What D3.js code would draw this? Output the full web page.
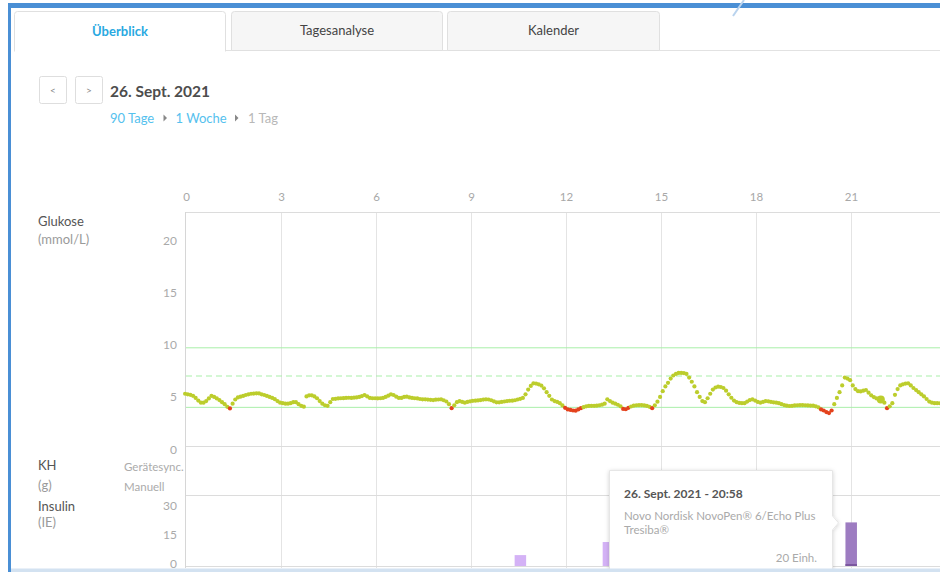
<!DOCTYPE html>
<html><head><meta charset="utf-8">
<script src="https://cdn.jsdelivr.net/npm/d3@7"></script>
<style>body{margin:0;background:#fff;font-family:Lato,'Open Sans',sans-serif;overflow:hidden} svg{display:block}</style>
</head><body><svg id="c" width="940" height="572"></svg>
<script>
// ---------- data ----------
const tabs = ['Überblick', 'Tagesanalyse', 'Kalender'];
const dateLabel = '26. Sept. 2021';
const crumbs = ['90 Tage', '1 Woche', '1 Tag'];
const hourTicks = [0, 3, 6, 9, 12, 15, 18, 21];
const glucoseTicks = [0, 5, 10, 15, 20];
const insulinTicks = [0, 15, 30];
const targetLow = 3.7, targetMid = 6.7, targetHigh = 9.4;
const glucoseStart = -0.06; // first reading (hours), readings every 5 minutes
// CGM readings every 5 minutes, mmol/L (rows = hours 0..23)
const glucose = [
 5.0,4.95,4.9,4.8,4.6,4.35,4.15,4.15,4.3,4.55,4.8,4.7,
 4.55,4.4,4.2,4.0,3.75,3.6,4.05,4.45,4.65,4.72,4.79,4.88,
 4.95,5.0,5.02,5.04,5.03,4.95,4.88,4.79,4.7,4.6,4.48,4.3,
 4.15,4.1,4.05,4.05,4.1,4.2,4.2,4.0,3.85,3.76,4.75,4.85,
 4.85,4.75,4.57,4.3,4.05,3.9,3.85,4.2,4.5,4.52,4.55,4.57,
 4.58,4.6,4.62,4.6,4.63,4.65,4.7,4.78,4.88,4.75,4.6,4.57,
 4.57,4.56,4.57,4.6,4.7,4.82,4.95,4.88,4.72,4.6,4.6,4.7,
 4.72,4.65,4.6,4.57,4.55,4.5,4.47,4.47,4.44,4.42,4.4,4.43,
 4.45,4.47,4.38,4.26,4.0,3.62,3.9,4.2,4.3,4.22,4.15,4.22,
 4.28,4.32,4.34,4.36,4.4,4.44,4.47,4.45,4.38,4.28,4.18,4.18,
 4.22,4.26,4.3,4.33,4.34,4.38,4.45,4.52,4.6,4.95,5.4,5.75,
 6.0,5.98,5.9,5.78,5.52,5.15,4.8,4.45,4.3,4.22,4.1,3.88,
 3.65,3.5,3.45,3.4,3.38,3.5,3.62,3.72,3.8,3.84,3.85,3.85,
 3.86,3.9,3.96,4.05,4.47,4.3,4.15,4.05,3.95,3.8,3.55,3.52,
 3.65,3.78,3.86,3.9,3.92,3.92,3.88,3.84,3.75,3.62,3.9,4.24,
 4.7,5.25,5.7,6.05,6.45,6.75,6.9,7.0,7.0,6.98,6.9,6.55,
 6.15,5.7,5.15,4.7,4.3,4.2,4.57,5.0,5.4,5.6,5.68,5.65,
 5.55,5.3,4.95,4.62,4.35,4.2,4.12,4.1,4.1,4.25,4.4,4.47,
 4.35,4.22,4.15,4.22,4.3,4.28,4.22,4.18,4.15,4.1,4.0,3.92,
 3.86,3.83,3.85,3.88,3.9,3.92,3.92,3.9,3.88,3.87,3.86,3.8,
 3.7,3.5,3.4,3.25,3.15,3.4,4.0,4.6,5.15,5.8,6.55,6.45,
 6.3,5.8,5.45,5.25,5.22,5.3,5.36,5.1,4.85,4.68,4.55,4.45,
 4.35,4.15,3.62,3.8,4.1,4.9,5.45,5.8,5.9,5.98,6.0,5.8,
 5.55,5.35,5.15,4.95,4.75,4.5,4.25,4.15,4.1,4.1,4.09,4.08
];
const manualTimes = [21.91];
const manualValues = [4.45];
const insulinTimes = [10.52, 13.30, 20.967];
const insulinUnits = [5, 11, 20];
const insulinKinds = ['bolus', 'bolus', 'basal'];
const tipTitle = '26. Sept. 2021 - 20:58';
const tipLines = ['Novo Nordisk NovoPen® 6/Echo Plus', 'Tresiba®'];
const tipAmount = '20 Einh.';

// ---------- drawing ----------
const svg = d3.select('#c');
const F = "Lato, 'Open Sans', sans-serif";

// frame
svg.append('rect').attr('x', 8).attr('y', 3).attr('width', 932).attr('height', 5).attr('fill', '#4a8fd5');
svg.append('line').attr('x1', 744).attr('y1', 0).attr('x2', 733).attr('y2', 16)
  .attr('stroke', '#b9d3ee').attr('stroke-width', 2);

// tabs
const tabX = [14, 231, 447], tabW = [212, 212, 213];
svg.append('line').attr('x1', 226).attr('x2', 940).attr('y1', 50.5).attr('y2', 50.5).attr('stroke', '#e2e2e2');
tabs.forEach((t, i) => {
  const x0 = tabX[i] + 0.5, x1 = tabX[i] + tabW[i] - 0.5, y0 = 11.5, y1 = 50.5, r = 3;
  svg.append('path')
    .attr('d', `M${x0},${y1 + (i === 0 ? 1 : 0)} L${x0},${y0 + r} Q${x0},${y0} ${x0 + r},${y0} L${x1 - r},${y0} Q${x1},${y0} ${x1},${y0 + r} L${x1},${y1 + (i === 0 ? 1 : 0)}` + (i === 0 ? '' : 'Z'))
    .attr('fill', i === 0 ? '#fff' : '#f6f6f6').attr('stroke', '#e0e0e0');
  svg.append('text').attr('x', tabX[i] + tabW[i] / 2).attr('y', i === 0 ? 31 : 30)
    .attr('text-anchor', 'middle').attr('dominant-baseline', 'central')
    .attr('font-family', F).attr('font-size', 13).attr('font-weight', i === 0 ? 700 : 400)
    .attr('fill', i === 0 ? '#29a9e1' : '#444').text(t);
});

// nav buttons
[['<', 39.5], ['>', 75.5]].forEach(([s, bx]) => {
  svg.append('rect').attr('x', bx).attr('y', 76.5).attr('width', 27).attr('height', 27).attr('rx', 2)
    .attr('fill', '#fff').attr('stroke', '#dedede');
  svg.append('text').attr('x', bx + 13.5).attr('y', 90).attr('text-anchor', 'middle')
    .attr('dominant-baseline', 'central').attr('font-family', F).attr('font-size', 10).attr('fill', '#888').text(s);
});
svg.append('text').attr('x', 110).attr('y', 90.5).attr('dominant-baseline', 'central')
  .attr('font-family', F).attr('font-size', 15.5).attr('font-weight', 700).attr('fill', '#4d4d4d').text(dateLabel);

// breadcrumbs
const crumbX = [110, 175.5, 248];
const crumbCol = ['#55c1ee', '#55c1ee', '#b8b8b8'];
crumbs.forEach((c, i) => {
  svg.append('text').attr('x', crumbX[i]).attr('y', 118).attr('dominant-baseline', 'central')
    .attr('font-family', F).attr('font-size', 13).attr('fill', crumbCol[i]).text(c);
});
[165, 236.5].forEach(tx => {
  svg.append('path').attr('d', `M${tx - 1.5},${114.5} L${tx + 2},${118} L${tx - 1.5},${121.5}Z`).attr('fill', '#888');
});

// scales
const x = d3.scaleLinear([0, 24], [187, 947]);
const yG = d3.scaleLinear([0, 22.4], [446, 212]);
const yI = d3.scaleLinear([0, 30], [566, 500.6]);
const yIL = d3.scaleLinear([0, 30], [563, 505]);
const right = 940;

// vertical gridlines across all panels
svg.append('g').selectAll('line').data(hourTicks.filter(d => d > 0)).join('line')
  .attr('x1', d => Math.round(x(d)) - 0.5).attr('x2', d => Math.round(x(d)) - 0.5)
  .attr('y1', 212).attr('y2', 568).attr('stroke', '#e4e4e4');
// hour labels
svg.append('g').selectAll('text').data(hourTicks).join('text')
  .attr('x', d => x(d) - 0.5).attr('y', 196).attr('text-anchor', 'middle').attr('dominant-baseline', 'central')
  .attr('font-family', F).attr('font-size', 11.5).attr('fill', '#a8a8a8').text(d => d);

// panel horizontal borders
[212, 446, 495, 566].forEach(yy => {
  svg.append('line').attr('x1', 185).attr('x2', right).attr('y1', yy + 0.5).attr('y2', yy + 0.5).attr('stroke', '#dcdcdc');
});
svg.append('line').attr('x1', 185.5).attr('x2', 185.5).attr('y1', 212).attr('y2', 568).attr('stroke', '#d6d6d6');

// glucose axis labels
svg.append('g').selectAll('text').data(glucoseTicks).join('text')
  .attr('x', 177).attr('y', d => yG(d) + 3).attr('text-anchor', 'end').attr('dominant-baseline', 'central')
  .attr('font-family', F).attr('font-size', 12).attr('fill', '#aaa').text(d => d);

// target range
[[targetHigh, null], [targetLow, null], [targetMid, '6,4']].forEach(([v, dash]) => {
  svg.append('line').attr('x1', 186).attr('x2', right).attr('y1', yG(v)).attr('y2', yG(v))
    .attr('stroke', '#a9efa9').attr('stroke-width', 1).attr('stroke-dasharray', dash);
});

// glucose dots
const gData = glucose.map((v, i) => ({ t: glucoseStart + i / 12, v }));
svg.append('g').selectAll('circle').data(gData).join('circle')
  .attr('cx', d => x(d.t)).attr('cy', d => yG(d.v)).attr('r', 2.1)
  .attr('fill', d => d.v < targetLow ? '#e4421d' : '#bccd2c');
svg.append('g').selectAll('circle').data(manualTimes).join('circle')
  .attr('cx', d => x(d)).attr('cy', (d, i) => yG(manualValues[i])).attr('r', 4)
  .attr('fill', '#bccd2c');

// left labels
const lab = (t, xx, yy, col, fs) => svg.append('text').attr('x', xx).attr('y', yy).attr('dominant-baseline', 'central')
  .attr('font-family', F).attr('font-size', fs || 13).attr('fill', col).text(t);
lab('Glukose', 38, 221, '#555');
lab('(mmol/L)', 38, 239, '#9a9a9a');
lab('KH', 38, 465, '#555');
lab('(g)', 38, 485, '#9a9a9a');
lab('Gerätesync.', 124, 466, '#ababab', 11.5);
lab('Manuell', 124, 486, '#ababab', 11.5);
lab('Insulin', 38, 505.5, '#555');
lab('(IE)', 38, 522, '#9a9a9a');
svg.append('g').selectAll('text').data(insulinTicks).join('text')
  .attr('x', 177).attr('y', d => yIL(d)).attr('text-anchor', 'end').attr('dominant-baseline', 'central')
  .attr('font-family', F).attr('font-size', 12).attr('fill', '#aaa').text(d => d);
lab('Training', 38, 578, '#555');
svg.append('text').attr('x', 177).attr('y', 578).attr('text-anchor', 'end').attr('dominant-baseline', 'central')
  .attr('font-family', F).attr('font-size', 12).attr('fill', '#aaa').text(10);

// insulin bars
const iData = insulinTimes.map((t, i) => ({ t, u: insulinUnits[i], k: insulinKinds[i] }));
const bars = svg.append('g').selectAll('g').data(iData).join('g');
bars.append('rect').attr('x', d => x(d.t) - 5.5).attr('width', 11.5)
  .attr('y', d => yI(d.u)).attr('height', d => yI(0) - yI(d.u))
  .attr('fill', d => d.k === 'basal' ? '#9d7cc1' : '#d4b2f6');
bars.filter(d => d.k === 'basal').append('rect').attr('x', d => x(d.t) - 5.5).attr('width', 11.5)
  .attr('y', yI(0) - 2).attr('height', 2).attr('fill', '#7b579f');

// tooltip
const tip = svg.append('g');
const defs = svg.append('defs');
const f = defs.append('filter').attr('id', 'sh').attr('x', '-10%').attr('y', '-10%').attr('width', '120%').attr('height', '130%');
f.append('feDropShadow').attr('dx', 0).attr('dy', 1).attr('stdDeviation', 2).attr('flood-color', '#000').attr('flood-opacity', 0.18);
const bx0 = 609.5, bx1 = 832.5, by0 = 470.5, ay = yI(insulinUnits[2]) + 0.5;
tip.append('path')
  .attr('d', `M${bx0},${by0} L${bx1},${by0} L${bx1},${ay - 7} L${bx1 + 6},${ay} L${bx1},${ay + 7} L${bx1},600 L${bx0},600Z`)
  .attr('fill', '#fff').attr('stroke', '#e6e6e6').attr('filter', 'url(#sh)');
tip.append('text').attr('x', 624).attr('y', 493).attr('dominant-baseline', 'central')
  .attr('font-family', F).attr('font-size', 12).attr('font-weight', 700).attr('fill', '#555').text(tipTitle);
tipLines.forEach((l, i) => tip.append('text').attr('x', 624).attr('y', 515 + i * 14.5).attr('dominant-baseline', 'central')
  .attr('font-family', F).attr('font-size', 11.5).attr('fill', '#aaa').text(l));
tip.append('text').attr('x', 817).attr('y', 557.5).attr('text-anchor', 'end').attr('dominant-baseline', 'central')
  .attr('font-family', F).attr('font-size', 11.5).attr('fill', '#aaa').text(tipAmount);

// bottom strip and left frame
svg.append('rect').attr('x', 8).attr('y', 568.5).attr('width', 932).attr('height', 4).attr('fill', '#d3e2f1');
svg.append('rect').attr('x', 8).attr('y', 3).attr('width', 3).attr('height', 569).attr('fill', '#4a8fd5');
</script></body></html>
